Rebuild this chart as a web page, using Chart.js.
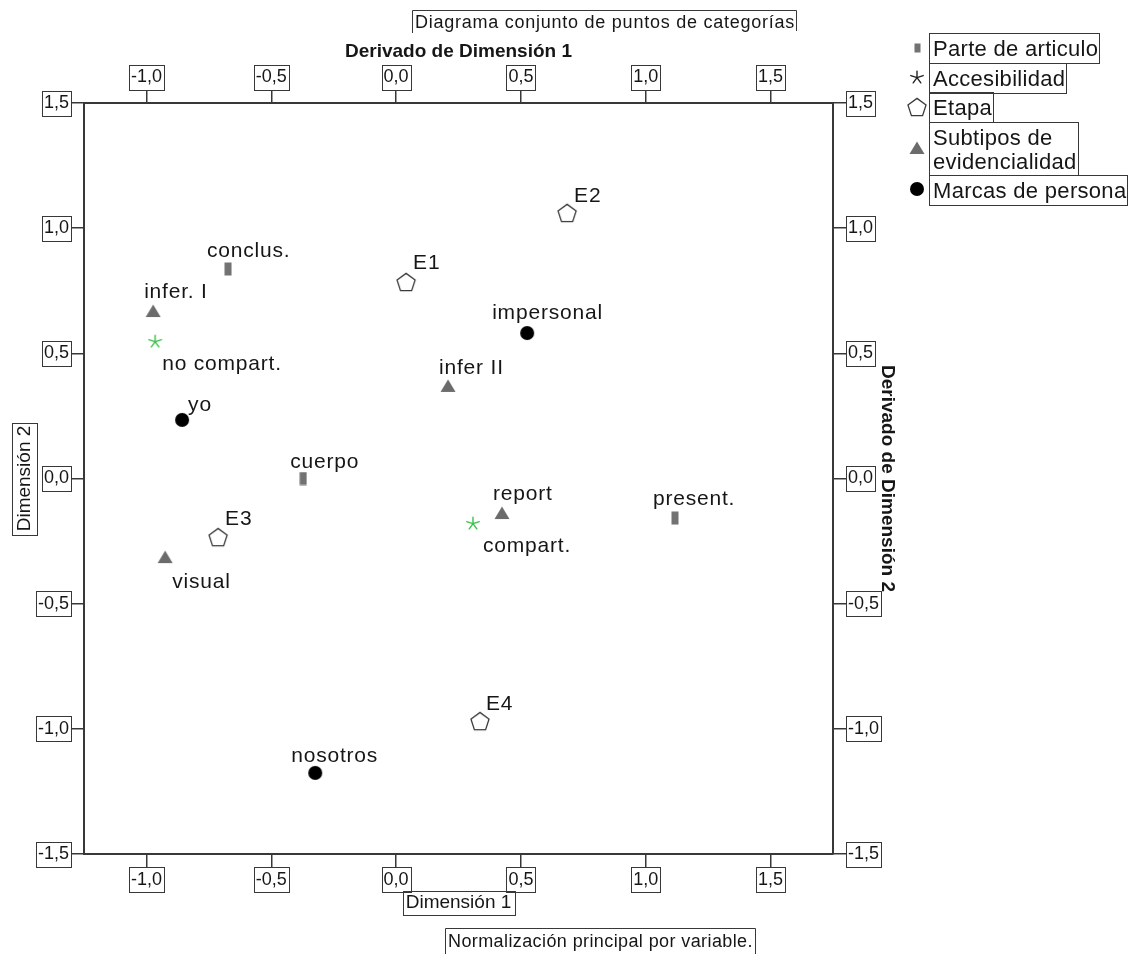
<!DOCTYPE html>
<html>
<head>
<meta charset="utf-8">
<script src="https://cdn.jsdelivr.net/npm/chart.js@4.4.1/dist/chart.umd.min.js"></script>
<style>
  html, body { margin: 0; padding: 0; background: #ffffff; }
  canvas { display: block; }
</style>
</head>
<body>
<canvas id="chart" width="1131" height="954"></canvas>
<script>
// Category quantifications on Dimension 1 / Dimension 2, one group per variable
const parteLabels = ['conclus.', 'cuerpo', 'present.'];
const parteDim1 = [-0.673, -0.372, 1.117];
const parteDim2 = [0.837, 0.000, -0.158];

const accesLabels = ['no compart.', 'compart.'];
const accesDim1 = [-0.965, 0.308];
const accesDim2 = [0.549, -0.178];

const etapaLabels = ['E1', 'E2', 'E3', 'E4'];
const etapaDim1 = [0.040, 0.685, -0.713, 0.336];
const etapaDim2 = [0.785, 1.061, -0.234, -0.969];

const subtipoLabels = ['infer. I', 'infer II', 'visual', 'report'];
const subtipoDim1 = [-0.973, 0.208, -0.925, 0.424];
const subtipoDim2 = [0.669, 0.370, -0.314, -0.138];

const personaLabels = ['yo', 'impersonal', 'nosotros'];
const personaDim1 = [-0.857, 0.525, -0.324];
const personaDim2 = [0.234, 0.581, -1.176];

const groupNames = ['Parte de articulo', 'Accesibilidad', 'Etapa', ['Subtipos de', 'evidencialidad'], 'Marcas de persona'];
const xTickValues = [-1.0, -0.5, 0.0, 0.5, 1.0, 1.5];
const yTickValues = [-1.5, -1.0, -0.5, 0.0, 0.5, 1.0, 1.5];
const chartTitle = 'Diagrama conjunto de puntos de categorías';
const footnote = 'Normalización principal por variable.';

// Where each category label sits relative to its marker (pixels: left edge, baseline)
const labelOffset = {
  'conclus.': [-21, -12], 'cuerpo': [-13, -11], 'present.': [-22, -13],
  'no compart.': [7, 29], 'compart.': [10, 29],
  'E1': [7, -13], 'E2': [7, -11], 'E3': [7, -12], 'E4': [6, -11],
  'infer. I': [-9, -13], 'infer II': [-9, -12], 'visual': [7, 31], 'report': [-9, -13],
  'yo': [6, -9], 'impersonal': [-35, -14], 'nosotros': [-24, -11]
};

const FONT = "'Liberation Sans', Arial, Helvetica, sans-serif";
const INK = '#161616';
const LINE = '#383838';
const TICK_FONT_SIZE = 18;

// Marker sprites
function sprite(w, h, draw) {
  const c = document.createElement('canvas');
  c.width = w; c.height = h;
  draw(c.getContext('2d'));
  return c;
}
const rectMark = sprite(8, 14, g => { g.fillStyle = '#727272'; g.fillRect(0.5, 0.5, 7, 13); });
const rectMarkSmall = sprite(7, 10, g => { g.fillStyle = '#727272'; g.fillRect(0.5, 0.5, 6, 9); });
function asterisk(color) {
  return sprite(16, 16, g => {
    g.strokeStyle = color; g.lineWidth = 1.4; g.lineCap = 'round';
    g.beginPath();
    for (let k = 0; k < 5; k++) {
      const a = -Math.PI / 2 + k * 2 * Math.PI / 5;
      g.moveTo(8, 8.6);
      g.lineTo(8 + 6.5 * Math.cos(a), 8.6 + 6.5 * Math.sin(a));
    }
    g.stroke();
  });
}
const starMark = asterisk('#3cbf4a');
const starMarkLegend = asterisk('#222222');
const pentMark = sprite(22, 22, g => {
  const R = 9.5, cx = 11, cy = 11.9;
  g.beginPath();
  for (let k = 0; k < 5; k++) {
    const a = -Math.PI / 2 + k * 2 * Math.PI / 5;
    const px = cx + R * Math.cos(a), py = cy + R * Math.sin(a);
    if (k === 0) g.moveTo(px, py); else g.lineTo(px, py);
  }
  g.closePath();
  g.fillStyle = '#ffffff'; g.fill();
  g.strokeStyle = '#3a3a3a'; g.lineWidth = 1.3; g.stroke();
});
const triMark = sprite(16, 14, g => {
  g.beginPath(); g.moveTo(8, 0.5); g.lineTo(15.5, 13); g.lineTo(0.5, 13); g.closePath();
  g.fillStyle = '#6b6b6b'; g.fill();
});
const dotMark = sprite(16, 16, g => {
  g.beginPath(); g.arc(8, 8, 7, 0, Math.PI * 2); g.fillStyle = '#000000'; g.fill();
});

function points(xs, ys) { return xs.map((x, i) => ({ x: x, y: ys[i] })); }

const datasets = [
  { label: 'Parte de articulo', data: points(parteDim1, parteDim2), pointLabels: parteLabels, pointStyle: rectMark, legendMark: rectMarkSmall },
  { label: 'Accesibilidad', data: points(accesDim1, accesDim2), pointLabels: accesLabels, pointStyle: starMark, legendMark: starMarkLegend },
  { label: 'Etapa', data: points(etapaDim1, etapaDim2), pointLabels: etapaLabels, pointStyle: pentMark, legendMark: pentMark },
  { label: 'Subtipos de evidencialidad', data: points(subtipoDim1, subtipoDim2), pointLabels: subtipoLabels, pointStyle: triMark, legendMark: triMark },
  { label: 'Marcas de persona', data: points(personaDim1, personaDim2), pointLabels: personaLabels, pointStyle: dotMark, legendMark: dotMark }
];
datasets.forEach(d => { d.pointRadius = 7; d.showLine = false; });

function fmt(v) { return Number(v).toFixed(1).replace('.', ','); }

const TICK_LEN = 13;
const TICK_BOX_H = 25;
const tickFont = { family: FONT, size: TICK_FONT_SIZE };
const gridOpt = { display: true, drawOnChartArea: false, drawTicks: true, tickLength: TICK_LEN, color: LINE, lineWidth: 1.5 };
const borderOpt = { display: true, color: LINE, width: 2 };

function axis(position, min, max, values, fitSize, title) {
  const horizontal = position === 'top' || position === 'bottom';
  return {
    type: 'linear',
    position: position,
    min: min,
    max: max,
    afterBuildTicks: s => { s.ticks = values.map(v => ({ value: v })); },
    afterFit: s => { if (horizontal) s.height = fitSize; else s.width = fitSize; },
    ticks: { font: tickFont, color: INK, padding: 2, autoSkip: false, maxRotation: 0, callback: v => fmt(v) },
    grid: gridOpt,
    border: borderOpt,
    title: title
  };
}

// Boxed captions, tick label frames, title, note and legend
const decorations = {
  id: 'decorations',
  afterDatasetsDraw(chart) {
    const ctx = chart.ctx;
    ctx.save();
    ctx.font = `21px ${FONT}`;
    if ('letterSpacing' in ctx) ctx.letterSpacing = '0.8px';
    ctx.fillStyle = INK;
    ctx.textAlign = 'left';
    ctx.textBaseline = 'alphabetic';
    chart.data.datasets.forEach((ds, i) => {
      chart.getDatasetMeta(i).data.forEach((pt, j) => {
        const lbl = ds.pointLabels[j];
        const off = labelOffset[lbl] || [6, -10];
        ctx.fillText(lbl, pt.x + off[0], pt.y + off[1]);
      });
    });
    ctx.restore();
  },
  afterDraw(chart) {
    const ctx = chart.ctx;
    ctx.save();
    ctx.strokeStyle = LINE;
    ctx.lineWidth = 1;

    // frames round the tick labels
    ctx.font = `${TICK_FONT_SIZE}px ${FONT}`;
    ['x', 'x2', 'y', 'y2'].forEach(id => {
      const s = chart.scales[id];
      s.ticks.forEach(t => {
        const p = s.getPixelForValue(t.value);
        const w = ctx.measureText(t.label).width + 4;
        let bx, by, bw, bh;
        if (id === 'x') { bx = p - w / 2; by = s.top + TICK_LEN; bw = w; bh = TICK_BOX_H; }
        else if (id === 'x2') { bx = p - w / 2; by = s.bottom - TICK_LEN - TICK_BOX_H; bw = w; bh = TICK_BOX_H; }
        else if (id === 'y') { bx = s.right - TICK_LEN - w; by = p - TICK_BOX_H / 2; bw = w; bh = TICK_BOX_H; }
        else { bx = s.left + TICK_LEN; by = p - TICK_BOX_H / 2; bw = w; bh = TICK_BOX_H; }
        ctx.strokeRect(Math.round(bx) + 0.5, Math.round(by) + 0.5, Math.round(bw), Math.round(bh));
      });
    });

    // frames round the axis captions
    ctx.font = `19px ${FONT}`;
    const sx = chart.scales.x;
    const wx = ctx.measureText(sx.options.title.text).width + 6;
    const cxX = (sx.left + sx.right) / 2;
    const cyX = sx.bottom - 22.8 / 2 - sx.options.title.padding.bottom;
    ctx.strokeRect(Math.round(cxX - wx / 2) + 0.5, Math.round(cyX - 12) + 0.5, Math.round(wx), 24);
    const sy = chart.scales.y;
    const wy = ctx.measureText(sy.options.title.text).width + 6;
    const cxY = sy.left + 22.8 / 2 + sy.options.title.padding.top;
    const cyY = (sy.top + sy.bottom) / 2;
    ctx.strokeRect(Math.round(cxY - 12.5) + 0.5, Math.round(cyY - wy / 2) + 0.5, 25, Math.round(wy));

    // chart title
    ctx.fillStyle = INK;
    ctx.textAlign = 'left';
    ctx.textBaseline = 'alphabetic';
    ctx.font = `18px ${FONT}`;
    if ('letterSpacing' in ctx) ctx.letterSpacing = '0.75px';
    const tw = ctx.measureText(chartTitle).width;
    ctx.fillText(chartTitle, 415, 28);
    ctx.beginPath();
    ctx.moveTo(412.5, 33); ctx.lineTo(412.5, 10.5); ctx.lineTo(Math.round(415 + tw + 1) + 0.5, 10.5); ctx.lineTo(Math.round(415 + tw + 1) + 0.5, 31);
    ctx.stroke();

    // normalization note
    ctx.font = `18px ${FONT}`;
    if ('letterSpacing' in ctx) ctx.letterSpacing = '0.4px';
    const nw = ctx.measureText(footnote).width;
    ctx.fillText(footnote, 448, 947);
    ctx.beginPath();
    ctx.moveTo(445.5, 954); ctx.lineTo(445.5, 928.5); ctx.lineTo(Math.round(448 + nw + 2) + 0.5, 928.5); ctx.lineTo(Math.round(448 + nw + 2) + 0.5, 954);
    ctx.stroke();

    // legend
    ctx.font = `22px ${FONT}`;
    if ('letterSpacing' in ctx) ctx.letterSpacing = '0.3px';
    let top = 33;
    const boxLeft = 929.5;
    chart.data.datasets.forEach((ds, i) => {
      const name = groupNames[i];
      const lines = Array.isArray(name) ? name : [name];
      const h = lines.length === 1 ? 29.5 : 53;
      let maxW = 0;
      lines.forEach((ln, k) => {
        maxW = Math.max(maxW, ctx.measureText(ln).width);
        ctx.fillText(ln, 933, top + 23 + k * 24.5);
      });
      ctx.strokeRect(boxLeft, Math.round(top) + 0.5, Math.round(maxW + 5), Math.round(h));
      const m = ds.legendMark;
      ctx.drawImage(m, Math.round(917 - m.width / 2), Math.round(top + h / 2 - m.height / 2));
      top += h;
    });
    ctx.restore();
  }
};

new Chart(document.getElementById('chart'), {
  type: 'scatter',
  data: { datasets: datasets },
  plugins: [decorations],
  options: {
    responsive: false,
    animation: false,
    devicePixelRatio: 1,
    events: [],
    layout: { autoPadding: false, padding: { left: 0, right: 230, top: 0, bottom: 40 } },
    plugins: { legend: { display: false }, tooltip: { enabled: false }, title: { display: false } },
    scales: {
      x: axis('bottom', -1.25, 1.75, xTickValues, 60,
        { display: true, text: 'Dimensión 1', color: INK, font: { family: FONT, size: 19 }, padding: { top: 0, bottom: 0 } }),
      x2: axis('top', -1.25, 1.75, xTickValues, 103,
        { display: true, text: 'Derivado de Dimensión 1', color: INK, font: { family: FONT, size: 19, weight: 'bold' }, padding: { top: 40.6, bottom: 0 } }),
      y: axis('left', -1.5, 1.5, yTickValues, 84,
        { display: true, text: 'Dimensión 2', color: INK, font: { family: FONT, size: 19 }, padding: { top: 13, bottom: 0 } }),
      y2: axis('right', -1.5, 1.5, yTickValues, 68,
        { display: true, text: 'Derivado de Dimensión 2', color: INK, font: { family: FONT, size: 19, weight: 'bold' }, padding: { top: 2, bottom: 0 } })
    }
  }
});
</script>
</body>
</html>
